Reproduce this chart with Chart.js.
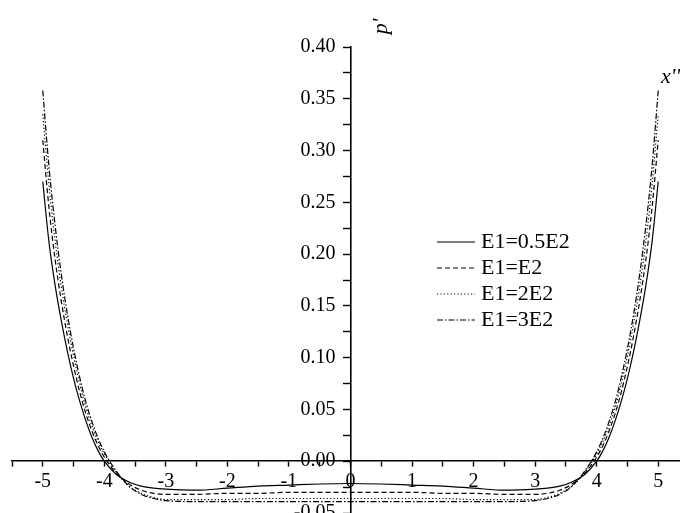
<!DOCTYPE html>
<html>
<head>
<meta charset="utf-8">
<script src="https://cdn.jsdelivr.net/npm/chart.js@4.4.0/dist/chart.umd.min.js"></script>
<style>
  html, body { margin: 0; padding: 0; background: #fff; overflow: hidden; }
  #wrap { width: 680px; height: 513px; overflow: hidden; }
</style>
</head>
<body>
<div id="wrap"><canvas id="chart" width="700" height="535"></canvas></div>
<script>
// x'' positions
const xs = [-5, -4.9, -4.8, -4.7, -4.6, -4.5, -4.4, -4.3, -4.2, -4.1, -4, -3.8, -3.6, -3.4, -3.2, -3, -2.5, -2, -1.5, -1, -0.5,
  0, 0.5, 1, 1.5, 2, 2.5, 3, 3.2, 3.4, 3.6, 3.8, 4, 4.1, 4.2, 4.3, 4.4, 4.5, 4.6, 4.7, 4.8, 4.9, 5];

// p' values
const pHalf = [0.270, 0.212, 0.170, 0.136, 0.106, 0.080, 0.058, 0.039, 0.023, 0.010, 0.000, -0.013, -0.020, -0.024, -0.026, -0.027, -0.028, -0.026, -0.024, -0.023, -0.022,
  -0.0215, -0.022, -0.023, -0.024, -0.026, -0.028, -0.027, -0.026, -0.024, -0.020, -0.013, 0.000, 0.010, 0.023, 0.039, 0.058, 0.080, 0.106, 0.136, 0.170, 0.212, 0.270];
const pOne = [0.310, 0.245, 0.195, 0.155, 0.121, 0.092, 0.067, 0.046, 0.029, 0.015, 0.004, -0.012, -0.022, -0.028, -0.031, -0.032, -0.032, -0.031, -0.031, -0.030, -0.030,
  -0.030, -0.030, -0.030, -0.031, -0.031, -0.032, -0.032, -0.031, -0.028, -0.022, -0.012, 0.004, 0.015, 0.029, 0.046, 0.067, 0.092, 0.121, 0.155, 0.195, 0.245, 0.310];
const pTwo = [0.335, 0.267, 0.213, 0.169, 0.133, 0.102, 0.075, 0.052, 0.034, 0.019, 0.007, -0.011, -0.024, -0.031, -0.035, -0.037, -0.037, -0.037, -0.036, -0.036, -0.036,
  -0.036, -0.036, -0.036, -0.036, -0.037, -0.037, -0.037, -0.035, -0.031, -0.024, -0.011, 0.007, 0.019, 0.034, 0.052, 0.075, 0.102, 0.133, 0.169, 0.213, 0.267, 0.335];
const pThree = [0.358, 0.285, 0.228, 0.181, 0.142, 0.109, 0.081, 0.057, 0.038, 0.022, 0.009, -0.010, -0.024, -0.032, -0.036, -0.038, -0.039, -0.039, -0.039, -0.039, -0.039,
  -0.039, -0.039, -0.039, -0.039, -0.039, -0.039, -0.038, -0.036, -0.032, -0.024, -0.010, 0.009, 0.022, 0.038, 0.057, 0.081, 0.109, 0.142, 0.181, 0.228, 0.285, 0.358];

const seriesLabels = ['E1=0.5E2', 'E1=E2', 'E1=2E2', 'E1=3E2'];
const seriesDash = [[], [5, 3], [1.2, 2.2], [6, 2, 1.5, 2]];
const xLabelStep = 1;     // labelled x ticks
const yLabelStep = 0.05;  // labelled y ticks

const font = '"Liberation Serif", "Times New Roman", serif';

const toPts = arr => arr.map((v, i) => ({ x: xs[i], y: v }));
const onStep = (v, s) => Math.abs(v / s - Math.round(v / s)) < 1e-6;

const extras = {
  id: 'extras',
  afterDraw(chart) {
    const ctx = chart.ctx;
    const xS = chart.scales.x, yS = chart.scales.y;
    ctx.save();
    ctx.fillStyle = '#000';
    ctx.strokeStyle = '#000';
    // legend
    ctx.font = '22px ' + font;
    ctx.textBaseline = 'middle';
    ctx.textAlign = 'left';
    chart.data.datasets.forEach((ds, i) => {
      const y = 242 + i * 26;
      ctx.beginPath();
      ctx.lineWidth = 1.2;
      ctx.setLineDash(ds.borderDash);
      ctx.moveTo(437, y);
      ctx.lineTo(475, y);
      ctx.stroke();
      ctx.setLineDash([]);
      ctx.fillText(ds.label, 481, y);
    });
    // axis titles
    ctx.font = 'italic 22px ' + font;
    ctx.textAlign = 'center';
    ctx.fillText("x''", xS.getPixelForValue(5.2), yS.getPixelForValue(0.371));
    ctx.translate(xS.getPixelForValue(0.5), yS.getPixelForValue(0.42));
    ctx.rotate(-Math.PI / 2);
    ctx.fillText("p'", 0, 0);
    ctx.restore();
  }
};

new Chart(document.getElementById('chart').getContext('2d'), {
  type: 'line',
  data: {
    datasets: [pHalf, pOne, pTwo, pThree].map((arr, i) => ({
      label: seriesLabels[i],
      data: toPts(arr),
      borderColor: '#000',
      borderWidth: 1.2,
      borderDash: seriesDash[i],
      pointRadius: 0,
      fill: false,
      cubicInterpolationMode: 'monotone'
    }))
  },
  options: {
    responsive: false,
    animation: false,
    layout: { padding: { left: 12, right: 11, top: 47, bottom: 22 } },
    plugins: { legend: { display: false }, tooltip: { enabled: false } },
    scales: {
      x: {
        type: 'linear',
        min: -5.5,
        max: 5.5,
        position: { y: 0 },
        border: { display: true, color: '#000', width: 1.6 },
        grid: { drawOnChartArea: false, drawTicks: true, tickLength: 5, tickColor: '#000', tickWidth: 1.4 },
        ticks: {
          stepSize: 0.5,
          autoSkip: false,
          maxRotation: 0,
          padding: 4,
          color: '#000',
          font: { family: font, size: 20 },
          callback: v => onStep(v, xLabelStep) && Math.abs(v) < 5.4 ? String(Math.round(v)) : ''
        }
      },
      y: {
        type: 'linear',
        min: -0.05,
        max: 0.40,
        position: { x: 0 },
        border: { display: true, color: '#000', width: 1.6 },
        grid: { drawOnChartArea: false, drawTicks: true, tickLength: 7, tickColor: '#000', tickWidth: 1.4 },
        ticks: {
          stepSize: 0.025,
          autoSkip: false,
          padding: 6,
          color: '#000',
          font: { family: font, size: 20 },
          // trailing spaces keep the right-aligned labels clear of the centred axis
          callback: v => onStep(v, yLabelStep) ? v.toFixed(2) + '   ' : ''
        }
      }
    }
  },
  plugins: [extras]
});
</script>
</body>
</html>
